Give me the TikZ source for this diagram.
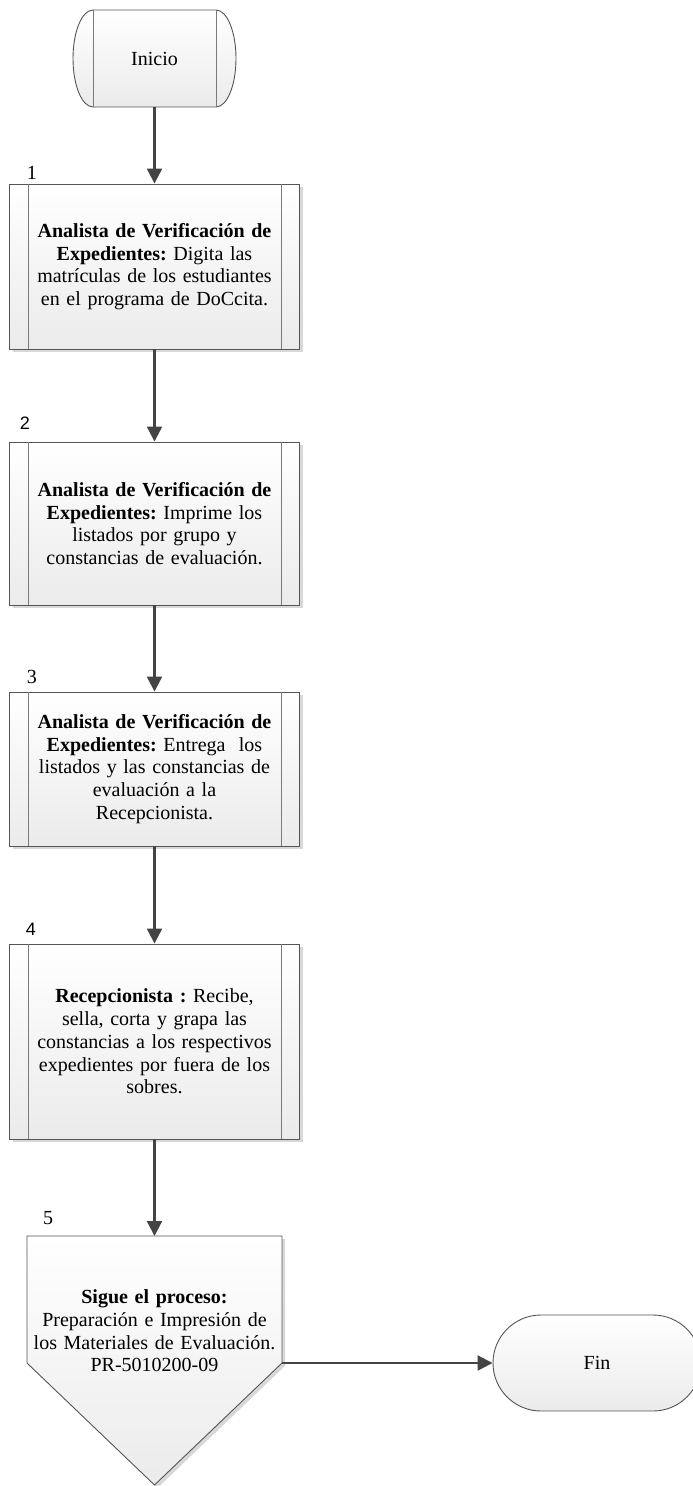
\documentclass[tikz,border=0pt]{standalone}
\usepackage{fontspec}
\setmainfont{Liberation Serif}
\newfontfamily\numsans{Liberation Sans}
\usetikzlibrary{arrows.meta,shapes.misc,shadows}
\frenchspacing

\definecolor{outline}{HTML}{555555}
\definecolor{divline}{HTML}{7A7A7A}
\definecolor{flowcol}{HTML}{444444}
\definecolor{shadebot}{HTML}{EBEBEB}

\begin{document}
\begin{tikzpicture}[x=1pt,y=-1pt,
  font=\fontsize{20}{22.7}\selectfont,
  softshadow/.style={drop shadow={shadow xshift=3pt,shadow yshift=-3pt,fill=black!30,opacity=0.5}},
  shaded/.style={draw=outline,line width=0.9pt,top color=white,bottom color=shadebot},
  procbox/.style={shaded,softshadow,rectangle,minimum width=290pt,inner sep=0pt,
                  text width=252pt,align=center},
  divider/.style={draw=divline,line width=0.9pt},
  flow/.style={draw=flowcol,line width=2.2pt,-{Triangle[length=15pt,width=15pt]}},
  steplabel/.style={inner sep=0pt},
]
\useasboundingbox (0,0) rectangle (693,1486);
\clip (0,0) rectangle (693,1486);

% start terminator with side bars
\path[shaded] (93,10) -- (216,10)
  arc[start angle=-90,end angle=90,x radius=20,y radius=48.5]
  -- (93,107)
  arc[start angle=90,end angle=270,x radius=20,y radius=48.5] -- cycle;
\draw[divider] (93,10) -- (93,107);
\draw[divider] (216,10) -- (216,107);
\node[inner sep=0pt,minimum width=123pt,minimum height=97pt] (start) at (154.5,58.5) {Inicio};

% process steps
\node[procbox,minimum height=165pt] (s1) at (154.5,266.5)
  {\textbf{Analista de Verificación de}\\\textbf{Expedientes:} Digita las\\matrículas de los estudiantes\\en el programa de DoCcita.};
\node[procbox,minimum height=163pt] (s2) at (154.5,523.5)
  {\textbf{Analista de Verificación de}\\\textbf{Expedientes:} Imprime los\\listados por grupo y\\constancias de evaluación.};
\node[procbox,minimum height=154pt] (s3) at (154.5,769)
  {\textbf{Analista de Verificación de}\\\textbf{Expedientes:} Entrega\ \ los\\listados y las constancias de\\evaluación a la\\Recepcionista.};
\node[procbox,minimum height=195pt] (s4) at (154.5,1041.5)
  {\textbf{Recepcionista :} Recibe,\\sella, corta y grapa las\\constancias a los respectivos\\expedientes por fuera de los\\sobres.};

\foreach \s in {s1,s2,s3,s4}{
  \draw[divider] ([xshift=19pt]\s.north west) -- ([xshift=19pt]\s.south west);
  \draw[divider] ([xshift=-19pt]\s.north east) -- ([xshift=-19pt]\s.south east);
}

% step numbers
\node[steplabel] (n1) at (32,173) {1};
\node[steplabel,font=\numsans\fontsize{18}{20}\selectfont] (n2) at (25,423) {2};
\node[steplabel] (n3) at (32,677) {3};
\node[steplabel,font=\numsans\fontsize{18}{20}\selectfont] (n4) at (31,929) {4};
\node[steplabel] (n5) at (48,1218) {5};

% off-page connector to the next process
\path[shaded,softshadow] (27,1236) -- (282,1236) -- (282,1363) -- (154.5,1485) -- (27,1363) -- cycle;
\coordinate (p5top) at (154.5,1236);
\coordinate (p5out) at (282,1363);
\node[text width=262pt,align=center,inner sep=0pt] (p5) at (154.5,1331)
  {\textbf{Sigue el proceso:}\\Preparación e Impresión de\\los Materiales de Evaluación.\\PR-5010200-09};

% end terminator
\node[shaded,rounded rectangle,minimum width=208pt,minimum height=96pt,inner sep=0pt] (fin) at (597,1363) {Fin};

% connectors
\draw[flow] (start.south) -- (s1.north);
\draw[flow] (s1.south) -- (s2.north);
\draw[flow] (s2.south) -- (s3.north);
\draw[flow] (s3.south) -- (s4.north);
\draw[flow] (s4.south) -- (p5top);
\draw[flow] (p5out) -- (fin.west);
\end{tikzpicture}
\end{document}
